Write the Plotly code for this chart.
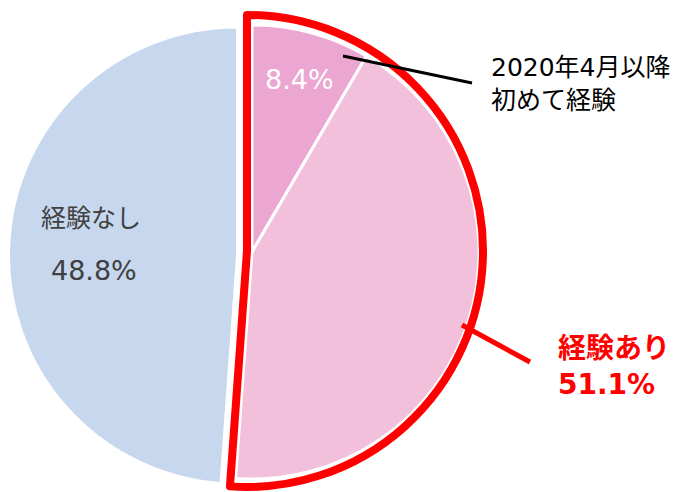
import plotly.graph_objects as go

# ---- data ----
categories = ["2020年4月以降初めて経験", "それ以前から経験", "経験なし"]
values = [8.4, 42.7, 48.8]
group_labels = ["経験あり", "経験なし"]
group_values = [51.1, 48.8]

W, H = 678, 492
FONT = "DejaVu Sans, Noto Sans CJK JP, sans-serif"
BLUE = "#C6D7EE"
DPINK = "#EBA6D2"
LPINK = "#F2C0DA"
RED = "#FF0000"
NONE = "rgba(0,0,0,0)"


def dom(cx, cy, r):
    return dict(x=[(cx - r) / W, (cx + r) / W], y=[1 - (cy + r) / H, 1 - (cy - r) / H])


common = dict(sort=False, direction="clockwise", rotation=0, textinfo="none",
              hoverinfo="skip", showlegend=False)

fig = go.Figure()
# blue (経験なし)
fig.add_trace(go.Pie(labels=categories, values=values, domain=dom(237, 255.5, 228),
                     marker=dict(colors=[NONE, NONE, BLUE],
                                 line=dict(color=["white", "white", "white"], width=[0, 0, 2])),
                     **common))
# pink (経験あり), shifted
fig.add_trace(go.Pie(labels=categories, values=values, domain=dom(252, 252, 227),
                     marker=dict(colors=[DPINK, LPINK, NONE],
                                 line=dict(color=["white", "white", "white"], width=[3, 3, 0])),
                     **common))
# red outline around 経験あり
fig.add_trace(go.Pie(labels=group_labels, values=group_values, domain=dom(247, 251, 236),
                     marker=dict(colors=[NONE, NONE],
                                 line=dict(color=[RED, NONE], width=[8, 0])),
                     **common))


def px(x):
    return x / W


def py(y):
    return 1 - y / H


shapes = [
    dict(type="line", xref="paper", yref="paper", x0=px(462), y0=py(325), x1=px(530), y1=py(362),
         line=dict(color=RED, width=5)),
    dict(type="line", xref="paper", yref="paper", x0=px(343), y0=py(56), x1=px(472), y1=py(83),
         line=dict(color="black", width=3)),
]

annotations = [
    dict(text="8.4%", x=px(263), y=py(79), xanchor="left", yanchor="middle",
         font=dict(family=FONT, size=27, color="white")),
    dict(text="経験なし", x=px(39), y=py(218), xanchor="left", yanchor="middle",
         font=dict(family=FONT, size=25, color="#404040")),
    dict(text="48.8%", x=px(49), y=py(270), xanchor="left", yanchor="middle",
         font=dict(family=FONT, size=27, color="#404040")),
    dict(text="2020年4月以降<br>初めて経験", x=px(489), y=py(84), xanchor="left", yanchor="middle",
         align="left", font=dict(family=FONT, size=25, color="black")),
    dict(text="<b>経験あり</b><br><b>51.1%</b>", x=px(556), y=py(366), xanchor="left",
         yanchor="middle", align="left", font=dict(family=FONT, size=28, color=RED)),
]
for a in annotations:
    a.update(xref="paper", yref="paper", showarrow=False)

fig.update_layout(width=W, height=H, margin=dict(l=0, r=0, t=0, b=0),
                  paper_bgcolor="white", plot_bgcolor="white",
                  shapes=shapes, annotations=annotations)

fig.write_html("out.html", config={"displayModeBar": False},
               post_script="document.body.style.margin='0';document.body.style.padding='0';")
